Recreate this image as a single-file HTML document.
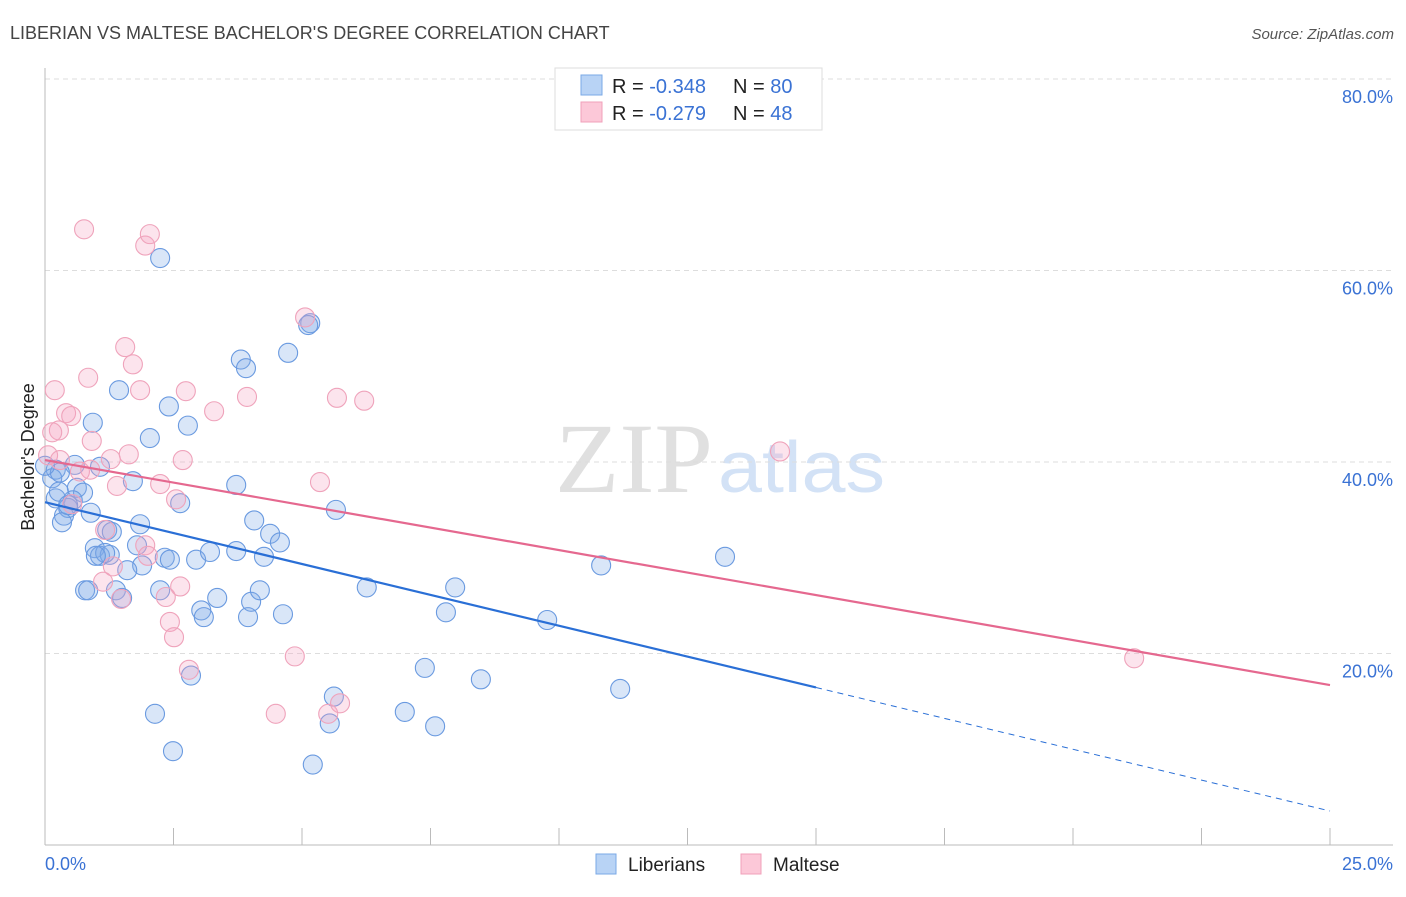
<!DOCTYPE html>
<html><head><meta charset="utf-8">
<style>
body{margin:0;background:#fff;font-family:"Liberation Sans",sans-serif;}
svg text{font-family:"Liberation Sans",sans-serif;}
</style></head>
<body>
<svg id="chart" width="1406" height="892">
<text x="10" y="39" font-size="18" fill="#444">LIBERIAN VS MALTESE BACHELOR'S DEGREE CORRELATION CHART</text>
<text x="1394" y="39" font-size="15" fill="#555" font-style="italic" text-anchor="end">Source: ZipAtlas.com</text>
<g>
<text x="555" y="492" font-size="100" textLength="158" lengthAdjust="spacingAndGlyphs" fill="#e0e0e0" style="font-family:'Liberation Serif',serif">ZIP</text>
<text x="718" y="492" font-size="72" textLength="167" lengthAdjust="spacingAndGlyphs" fill="#d3e2f6">atlas</text>
</g>
<g id="grid"></g>
<g id="axes"></g>
<g id="pts"></g>
<g id="lines"></g>
<text transform="translate(34,457) rotate(-90)" font-size="18" fill="#222" text-anchor="middle">Bachelor's Degree</text>
<g>
<rect x="555" y="68" width="267" height="62" fill="#fff" stroke="#ddd"/>
<rect x="581" y="75" width="21" height="20" fill="#b8d3f5" stroke="#7aa8e6"/>
<rect x="581" y="102" width="21" height="20" fill="#fcc8d8" stroke="#f0a0ba"/>
<text x="612" y="93" font-size="20" fill="#222">R = <tspan fill="#3a72d4">-0.348</tspan><tspan x="733">N = </tspan><tspan fill="#3a72d4">80</tspan></text>
<text x="612" y="120" font-size="20" fill="#222">R = <tspan fill="#3a72d4"> -0.279</tspan><tspan x="733">N = </tspan><tspan fill="#3a72d4">48</tspan></text>
</g>
<g>
<rect x="596" y="854" width="20" height="20" fill="#b8d3f5" stroke="#7aa8e6"/>
<text x="628" y="871" font-size="19" fill="#222">Liberians</text>
<rect x="741" y="854" width="20" height="20" fill="#fcc8d8" stroke="#f0a0ba"/>
<text x="773" y="871" font-size="19" fill="#222">Maltese</text>
</g>
</svg>
<script>
const yTicks=[20,40,60,80];
const yTickLabels=["20.0%","40.0%","60.0%","80.0%"];
const xTicks=[0,2.5,5,7.5,10,12.5,15,17.5,20,22.5,25];
const xEndLabels=["0.0%","25.0%"];
const libX=[2.24,5.16,4.73,3.81,3.91,1.44,2.41,0.93,2.78,2.04,3.72,1.71,0.21,0.14,0.58,1.07,0.29,0.62,0.74,0.21,0.54,0.45,0.37,0.33,0.89,2.63,1.85,1.21,1.30,0.97,1.07,1.26,1.17,1.79,2.33,2.43,2.94,3.21,3.72,4.26,4.07,4.38,4.57,1.89,1.60,0.78,0.84,1.38,1.50,2.24,3.35,4.01,4.18,3.04,3.09,3.95,4.63,5.66,6.26,7.98,7.80,9.77,10.82,13.23,7.39,8.48,11.19,5.62,7.00,7.59,5.54,2.14,2.49,5.21,2.84,5.12,0.99,0.27,0.0,0.45];
const libY=[61.3,54.5,51.4,50.7,49.8,47.5,45.8,44.1,43.8,42.5,37.6,38.0,39.2,38.3,39.7,39.5,38.9,37.3,36.8,36.2,36.0,35.2,34.4,33.7,34.7,35.7,33.5,32.9,32.7,31.0,30.2,30.3,30.5,31.3,30.0,29.8,29.8,30.6,30.7,30.1,33.9,32.5,31.6,29.2,28.7,26.6,26.6,26.6,25.8,26.6,25.8,25.4,26.6,24.5,23.8,23.8,24.1,35.0,26.9,26.9,24.3,23.5,29.2,30.1,18.5,17.3,16.3,15.5,13.9,12.4,12.7,13.7,9.8,8.4,17.7,54.3,30.2,36.9,39.6,35.5];
const malX=[0.76,1.95,2.04,5.06,1.56,1.71,0.19,0.84,1.85,2.74,3.93,5.68,6.21,3.29,0.41,0.51,0.27,0.14,0.91,2.68,1.63,1.28,0.06,0.29,0.68,0.88,1.40,2.24,5.35,2.55,0.53,1.17,1.95,2.00,1.32,1.13,2.63,2.35,1.48,2.43,2.51,2.80,4.86,4.49,5.51,5.74,14.30,21.19];
const malY=[64.3,62.6,63.8,55.1,52.0,50.2,47.5,48.8,47.5,47.4,46.8,46.7,46.4,45.3,45.1,44.8,43.3,43.1,42.2,40.2,40.8,40.3,40.7,40.2,39.0,39.2,37.5,37.7,37.9,36.1,35.6,32.9,31.3,30.2,29.1,27.5,27.0,25.9,25.7,23.3,21.7,18.3,19.7,13.7,13.7,14.8,41.1,19.5];
const libFit=[35.8,-1.29];
const malFit=[40.2,-0.94];
const NS="http://www.w3.org/2000/svg";
const X0=45,X1=1330,Y0=845,Y80=79;
const sx=v=>X0+v/25*(X1-X0);
const sy=v=>Y0-v/80*(Y0-Y80);
function mk(tag,attrs,parent){const e=document.createElementNS(NS,tag);for(const k in attrs)e.setAttribute(k,attrs[k]);parent.appendChild(e);return e;}
const grid=document.getElementById('grid'),axes=document.getElementById('axes'),pts=document.getElementById('pts'),lines=document.getElementById('lines');
yTicks.forEach((t,i)=>{
 const l=mk('line',{x1:X0,x2:1393,y1:sy(t),y2:sy(t),stroke:'#ddd','stroke-dasharray':'5,4'},grid);
 
 
 const tx=mk('text',{x:1393,y:sy(t)+24,'font-size':18,fill:'#3a72d4','text-anchor':'end'},axes);
 tx.textContent=yTickLabels[i];
 
 
});
const ya=mk('line',{x1:X0,x2:X0,y1:68,y2:Y0,stroke:'#bbb'},axes);


const xa=mk('line',{x1:X0,x2:1393,y1:Y0,y2:Y0,stroke:'#bbb'},axes);


xTicks.forEach(t=>{
 const l=mk('line',{x1:sx(t),x2:sx(t),y1:828,y2:Y0,stroke:'#bbb'},axes);
 
 
});
const xl0=mk('text',{x:45,y:870,'font-size':18,fill:'#3a72d4'},axes);xl0.textContent=xEndLabels[0];


const xl1=mk('text',{x:1393,y:870,'font-size':18,fill:'#3a72d4','text-anchor':'end'},axes);xl1.textContent=xEndLabels[1];


libX.forEach((x,i)=>{
 const c=mk('circle',{cx:sx(x),cy:sy(libY[i]),r:9.5,fill:'rgba(130,172,232,0.3)',stroke:'#6a9ae0','stroke-width':1.1},pts);
 
 
});
malX.forEach((x,i)=>{
 const c=mk('circle',{cx:sx(x),cy:sy(malY[i]),r:9.5,fill:'rgba(245,165,195,0.3)',stroke:'#efa3bb','stroke-width':1.1},pts);
 
 
});
const f=(fit,x)=>fit[0]+fit[1]*x;
const b1=mk('line',{x1:sx(0),y1:sy(f(libFit,0)),x2:sx(15),y2:sy(f(libFit,15)),stroke:'#2a6fd6','stroke-width':2.2},lines);


const b2=mk('line',{x1:sx(15),y1:sy(f(libFit,15)),x2:sx(25),y2:sy(f(libFit,25)),stroke:'#2a6fd6','stroke-width':1,'stroke-dasharray':'6,5'},lines);


const p1=mk('line',{x1:sx(0),y1:sy(f(malFit,0)),x2:sx(25),y2:sy(f(malFit,25)),stroke:'#e5688f','stroke-width':2.2},lines);


</script>
</body></html>
